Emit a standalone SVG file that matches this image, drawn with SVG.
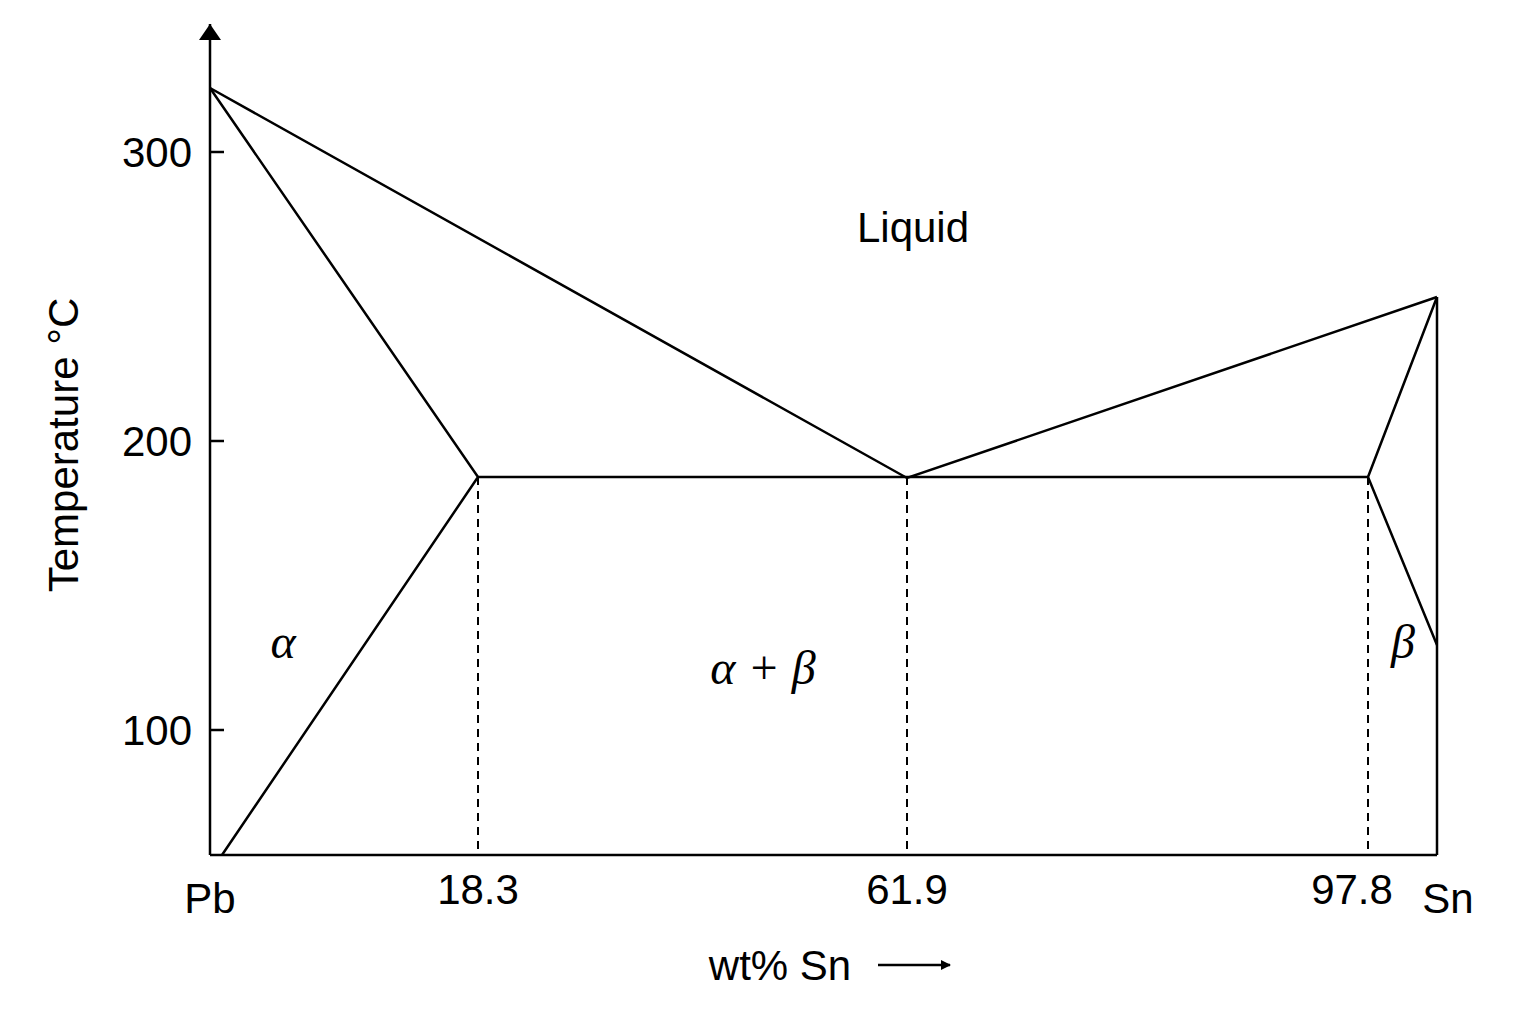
<svg xmlns="http://www.w3.org/2000/svg" width="1536" height="1024" viewBox="0 0 1536 1024">
<style>
.l{stroke:#000;stroke-width:2.5;fill:none}
.d{stroke:#000;stroke-width:2;stroke-dasharray:8,6;fill:none}
text{font-family:"Liberation Sans",Arial,sans-serif;font-size:42px;fill:#000}
.g{font-family:"Liberation Serif","DejaVu Serif",serif;font-style:italic;font-size:48px}
</style>
<defs><marker id="ah" markerWidth="10" markerHeight="10" refX="9" refY="5" orient="auto" markerUnits="userSpaceOnUse"><path d="M0,0 L10,5 L0,10 Z" fill="#000"/></marker>
<marker id="ah2" markerWidth="16" markerHeight="22" refX="16" refY="11" orient="auto" markerUnits="userSpaceOnUse"><path d="M0,0 L16,11 L0,22 Z" fill="#000"/></marker></defs>
<rect width="1536" height="1024" fill="#fff"/>
<g id="axes">
<line class="l" x1="210" y1="855" x2="210" y2="24" marker-end="url(#ah2)"/>
<line class="l" x1="210" y1="855" x2="1437" y2="855"/>
<line class="l" x1="1437" y1="297" x2="1437" y2="855"/>
<line class="l" x1="210" y1="152" x2="224" y2="152"/>
<line class="l" x1="210" y1="441" x2="224" y2="441"/>
<line class="l" x1="210" y1="730" x2="224" y2="730"/>
<text x="192" y="167" text-anchor="end">300</text>
<text x="192" y="456" text-anchor="end">200</text>
<text x="192" y="745" text-anchor="end">100</text>
<text transform="translate(78,445) rotate(-90)" text-anchor="middle">Temperature °C</text>
<text x="210" y="913" text-anchor="middle">Pb</text>
<text x="478" y="904" text-anchor="middle">18.3</text>
<text x="907" y="904" text-anchor="middle">61.9</text>
<text x="1352" y="904" text-anchor="middle">97.8</text>
<text x="1448" y="913" text-anchor="middle">Sn</text>
<text x="780" y="980" text-anchor="middle">wt% Sn</text>
<line class="l" x1="878" y1="965" x2="950" y2="965" stroke-width="2" marker-end="url(#ah)"/>
</g>
<g id="connectors">
<polyline class="l" points="210,88 907,478 1437,297"/>
<polyline class="l" points="210,88 478,477 222,855"/>
<line class="l" x1="478" y1="477" x2="1368" y2="477"/>
<polyline class="l" points="1437,297 1368,477 1437,645"/>
<line class="d" x1="478" y1="477" x2="478" y2="855"/>
<line class="d" x1="907" y1="477" x2="907" y2="855"/>
<line class="d" x1="1368" y1="477" x2="1368" y2="855"/>
</g>
<g id="labels">
<text x="913" y="242" text-anchor="middle">Liquid</text>
<text class="g" x="283" y="658" text-anchor="middle">α</text>
<text class="g" x="763" y="684" text-anchor="middle">α + β</text>
<text class="g" x="1403" y="658" text-anchor="middle">β</text>
</g>
</svg>
